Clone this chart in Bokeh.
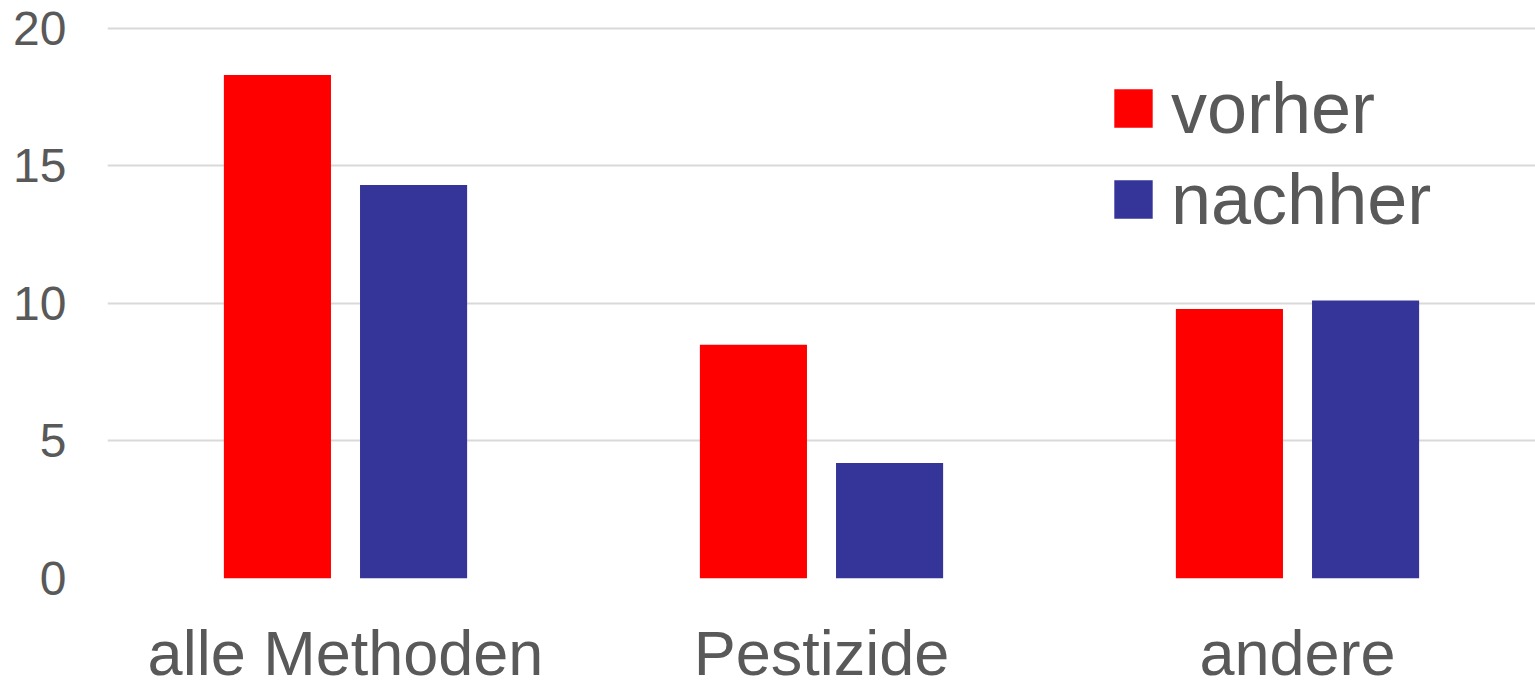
from bokeh.plotting import figure
from bokeh.models import ColumnDataSource, FactorRange, Range1d, Legend, LegendItem, FixedTicker
from bokeh.transform import dodge
from bokeh.embed import file_html
from bokeh.resources import INLINE

categories = ["alle Methoden", "Pestizide", "andere"]
vorher = [18.3, 8.5, 9.8]
nachher = [14.3, 4.2, 10.1]
series_names = ["vorher", "nachher"]
y_ticks = [0, 5, 10, 15, 20]

RED = "#ff0000"
BLUE = "#353599"
TEXT = "#595959"
FONT = "Liberation Sans"

src = ColumnDataSource(dict(cat=categories, vorher=vorher, nachher=nachher))

p = figure(x_range=FactorRange(*categories, range_padding=0), y_range=Range1d(0, 20.1),
           width=1535, height=690, output_backend="svg", toolbar_location=None,
           min_border_left=107, min_border_right=0, min_border_top=25, min_border_bottom=112)
p.outline_line_color = None

r1 = p.vbar(x=dodge("cat", -0.143, range=p.x_range), top="vorher", width=0.225, source=src,
            fill_color=RED, line_color=None)
r2 = p.vbar(x=dodge("cat", 0.143, range=p.x_range), top="nachher", width=0.225, source=src,
            fill_color=BLUE, line_color=None)

p.xgrid.grid_line_color = None
p.ygrid.grid_line_color = "#d9d9d9"
p.ygrid.grid_line_width = 2
p.yaxis.ticker = FixedTicker(ticks=y_ticks)

for ax in (p.xaxis[0], p.yaxis[0]):
    ax.axis_line_color = None
    ax.major_tick_line_color = None
    ax.minor_tick_line_color = None
    ax.major_tick_in = 0
    ax.major_tick_out = 0
    ax.minor_tick_in = 0
    ax.minor_tick_out = 0
    ax.major_label_text_color = TEXT
    ax.major_label_text_font = FONT

p.yaxis.major_label_text_font_size = "48px"
p.yaxis.major_label_standoff = 41
p.xaxis.major_label_text_font_size = "63px"
p.xaxis.major_label_standoff = 39

legend = Legend(items=[LegendItem(label=series_names[0], renderers=[r1]),
                       LegendItem(label=series_names[1], renderers=[r2])],
                location=(1002, 338))
legend.glyph_width = 48
legend.glyph_height = 48
legend.label_text_font_size = "72px"
legend.label_text_font = FONT
legend.label_text_color = TEXT
legend.label_standoff = 14
legend.spacing = 9
legend.padding = 0
legend.margin = 0
legend.border_line_color = None
legend.background_fill_alpha = 0
p.add_layout(legend)

open("out.html", "w").write(file_html(p, INLINE))
